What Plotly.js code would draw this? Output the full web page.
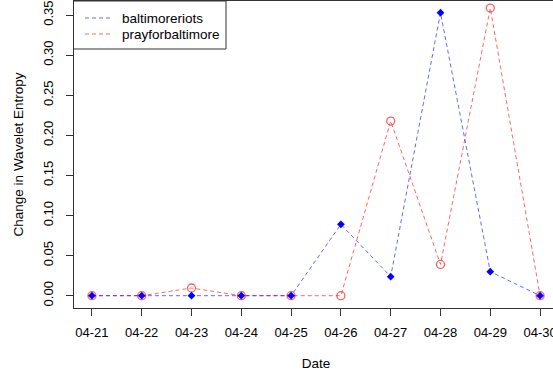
<!DOCTYPE html>
<html>
<head>
<meta charset="utf-8">
<script src="https://cdn.plot.ly/plotly-3.0.1.min.js"></script>
<style>
html, body { margin:0; padding:0; overflow:hidden; background:#fff; width:553px; height:377px; }
#chart { width:560px; height:377px; }
</style>
</head>
<body>
<div id="chart"></div>
<script>
const dates = ["04-21","04-22","04-23","04-24","04-25","04-26","04-27","04-28","04-29","04-30"];
const baltimoreriots = [0, 0, 0, 0, 0, 0.089, 0.0237, 0.353, 0.030, 0];
const prayforbaltimore = [0, 0, 0.0096, 0, 0, 0, 0.2178, 0.039, 0.3587, 0];
const yTicks = [0, 0.05, 0.10, 0.15, 0.20, 0.25, 0.30, 0.35];
const yTickText = ["0.00","0.05","0.10","0.15","0.20","0.25","0.30","0.35"];
const seriesNames = ["baltimoreriots", "prayforbaltimore"];

const xIdx = dates.map((d, i) => i + 1);
const FONT = "Liberation Sans, Arial, sans-serif";
const dashPat = "4px,3px";
const blueLine = "rgba(0,0,255,0.6)";
const redLine = "rgba(255,0,0,0.6)";

const traces = [
  { x: xIdx, y: prayforbaltimore, mode: "lines", name: seriesNames[1],
    line: { color: redLine, width: 1, dash: dashPat } },
  { x: xIdx, y: baltimoreriots, mode: "lines", name: seriesNames[0],
    line: { color: blueLine, width: 1, dash: dashPat } },
  { x: xIdx, y: prayforbaltimore, mode: "markers", name: seriesNames[1],
    marker: { symbol: "circle-open", size: 8, color: "rgba(255,40,40,0.75)", line: { width: 1.3, color: "rgba(255,40,40,0.75)" } } },
  { x: xIdx, y: baltimoreriots, mode: "markers", name: seriesNames[0],
    marker: { symbol: "diamond", size: 6, color: "#0000ff", line: { width: 0 } } }
];

// Plot area geometry (px) for the hand-drawn legend box
const PL = 74, PW = 484, PT = 1, PH = 307;
const px = v => (v - PL) / PW;
const py = v => (PT + PH - v) / PH;

const legendRows = [
  { name: seriesNames[0], color: blueLine, y: 18 },
  { name: seriesNames[1], color: redLine, y: 34 }
];
const shapes = [
  { type: "rect", xref: "paper", yref: "paper", x0: px(73.5), x1: px(226), y0: py(1), y1: py(49),
    line: { color: "#333", width: 1 }, fillcolor: "#fff", layer: "above" }
];
const annotations = [];
legendRows.forEach(r => {
  shapes.push({ type: "line", xref: "paper", yref: "paper", x0: px(85), x1: px(111), y0: py(r.y), y1: py(r.y),
    line: { color: r.color, width: 1, dash: dashPat }, layer: "above" });
  annotations.push({ xref: "paper", yref: "paper", x: px(120), y: py(r.y), xanchor: "left", yanchor: "middle",
    text: r.name, showarrow: false, font: { family: FONT, size: 13.5, color: "#000" } });
});

const axisCommon = {
  showline: true, mirror: true, linecolor: "#333", linewidth: 1,
  ticks: "outside", ticklen: 7, tickcolor: "#333", tickwidth: 1,
  showgrid: false, zeroline: false,
  ticklabeloverflow: "allow",
  tickfont: { family: FONT, size: 13, color: "#000" }
};

const layout = {
  width: 560, height: 377,
  margin: { l: PL, r: 560 - PL - PW, t: PT, b: 377 - PT - PH },
  paper_bgcolor: "#fff", plot_bgcolor: "#fff",
  font: { family: FONT, size: 13.5, color: "#000" },
  showlegend: false,
  xaxis: Object.assign({}, axisCommon, {
    range: [0.64, 10.36],
    tickmode: "array", tickvals: xIdx, ticktext: dates,
    ticklabelstandoff: 5,
    title: { text: "Date", font: { family: FONT, size: 13.5, color: "#000" }, standoff: 19 },
    automargin: false
  }),
  yaxis: Object.assign({}, axisCommon, {
    range: [-0.01534, 0.3675],
    tickmode: "array", tickvals: yTicks, ticktext: yTickText,
    tickangle: -90,
    ticklabelstandoff: 8,
    title: { text: "Change in Wavelet Entropy", font: { family: FONT, size: 13.5, color: "#000" }, standoff: 14 },
    automargin: false
  }),
  shapes: shapes,
  annotations: annotations
};

Plotly.newPlot("chart", traces, layout, { staticPlot: true, displayModeBar: false });
</script>
</body>
</html>
